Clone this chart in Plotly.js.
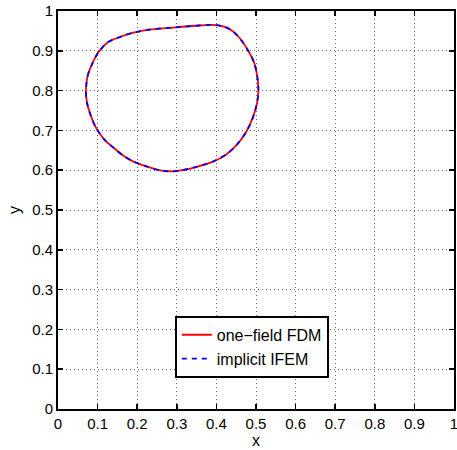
<!DOCTYPE html>
<html>
<head>
<meta charset="utf-8">
<script src="https://cdn.plot.ly/plotly-3.0.1.min.js"></script>
<style>html,body{margin:0;padding:0;background:#fff;}#chart{width:457px;height:450px;}</style>
</head>
<body>
<div id="chart"></div>
<script>
// Interface contour (x, y)
var fdmX = [0.0706,0.0748,0.0857,0.1025,0.125,0.146,0.188,0.230,0.297,0.348,0.390,0.415,0.436,0.457,0.478,0.495,0.503,0.506,0.503,0.492,0.474,0.449,0.424,0.390,0.348,0.314,0.289,0.255,0.222,0.192,0.167,0.142,0.117,0.0958,0.0832,0.0731,0.0706];
var fdmY = [0.800,0.837,0.866,0.897,0.921,0.931,0.945,0.953,0.959,0.963,0.965,0.962,0.953,0.934,0.904,0.871,0.837,0.803,0.770,0.732,0.694,0.661,0.639,0.621,0.608,0.600,0.597,0.600,0.610,0.621,0.635,0.655,0.677,0.707,0.736,0.770,0.800];
var ifemX = fdmX.slice();
var ifemY = fdmY.slice();
var seriesNames = ["one\u2212field FDM", "implicit IFEM"];
var tickVals = [0,0.1,0.2,0.3,0.4,0.5,0.6,0.7,0.8,0.9,1];
var tickText = ["0","0.1","0.2","0.3","0.4","0.5","0.6","0.7","0.8","0.9","1"];

var traces = [
  {x: fdmX, y: fdmY, name: seriesNames[0], mode: 'lines', type: 'scatter',
   line: {color: '#ff0000', width: 1.8, shape: 'spline', smoothing: 0.8}},
  {x: ifemX, y: ifemY, name: seriesNames[1], mode: 'lines', type: 'scatter',
   line: {color: '#0000ff', width: 1.8, dash: '5px,5px', shape: 'spline', smoothing: 0.8}}
];

var axisCommon = {
  range: [0, 1], tickvals: tickVals, ticktext: tickText,
  showgrid: true, gridcolor: '#666', gridwidth: 1, griddash: '1px,3px',
  zeroline: false, showline: true, linecolor: '#000', linewidth: 2,
  mirror: 'ticks', ticks: 'inside', ticklen: 5, tickwidth: 1.5, tickcolor: '#000',
  ticklabeloverflow: 'allow',
  tickfont: {size: 15, color: '#000'}
};

var layout = {
  width: 457, height: 450,
  margin: {l: 58, r: 3, t: 11, b: 41},
  paper_bgcolor: '#fff', plot_bgcolor: '#fff',
  font: {family: 'Liberation Sans, Arial, sans-serif', color: '#000', size: 15},
  showlegend: true,
  xaxis: Object.assign({}, axisCommon, {title: {text: 'x', standoff: 3, font: {size: 16}}}),
  yaxis: Object.assign({}, axisCommon, {title: {text: 'y', standoff: 8, font: {size: 16}}}),
  legend: {x: 0.295, y: 0.234, xanchor: 'left', yanchor: 'top',
    bgcolor: '#fff', bordercolor: '#000', borderwidth: 2,
    font: {size: 16, color: '#000'}, tracegroupgap: 0}
};

Plotly.newPlot('chart', traces, layout, {staticPlot: true, displayModeBar: false});
</script>
</body>
</html>
